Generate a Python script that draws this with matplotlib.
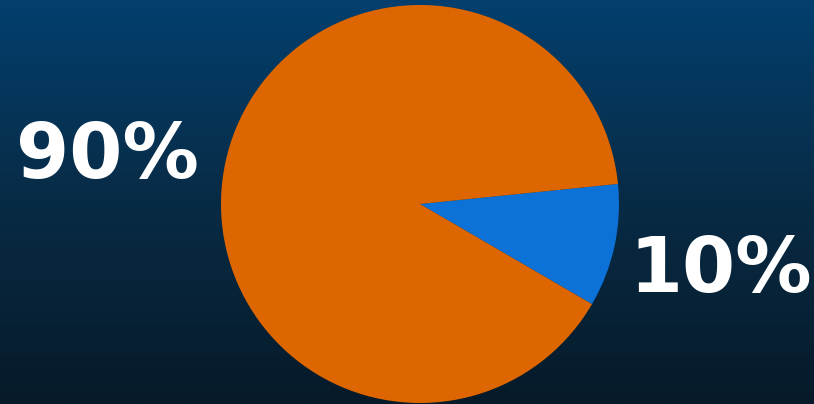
import numpy as np
import matplotlib
matplotlib.use("Agg")
import matplotlib.pyplot as plt
from matplotlib.colors import LinearSegmentedColormap

# Data
categories = ["Blue share", "Orange share"]
values = [10, 90]
colors = ["#0c72d8", "#dd6600"]

W, H = 814, 404
fig = plt.figure(figsize=(W / 100, H / 100), dpi=100)

# Background gradient
bg = fig.add_axes([0, 0, 1, 1])
cmap = LinearSegmentedColormap.from_list("bg", ["#033f6e", "#082b45", "#061a29"])
grad = np.linspace(0, 1, 256).reshape(-1, 1)
bg.imshow(grad, aspect="auto", cmap=cmap, extent=[0, 1, 0, 1], origin="upper")
bg.axis("off")

# Pie axes
cx, cy, r = 420, 204, 199
ax = fig.add_axes([0, 0, 1, 1])
ax.set_aspect("equal")
ax.axis("off")

wedges, _ = ax.pie(
    values, colors=colors, startangle=-30.2, counterclock=True,
    radius=1.0, wedgeprops=dict(linewidth=0),
)
ax.set_xlim(-cx / r, (W - cx) / r)
ax.set_ylim(-(H - cy) / r, cy / r)

# Percentage labels (pixel positions of label centre / baseline)
label_px = [(721, 292), (107, 178)]
total = sum(values)
for v, (px, py) in zip(values, label_px):
    ax.text((px - cx) / r, (cy - py) / r, f"{100 * v / total:.0f}%",
            color="white", fontsize=55, fontweight="bold", family="DejaVu Sans",
            ha="center", va="baseline")

fig.savefig("out.png", dpi=100)
